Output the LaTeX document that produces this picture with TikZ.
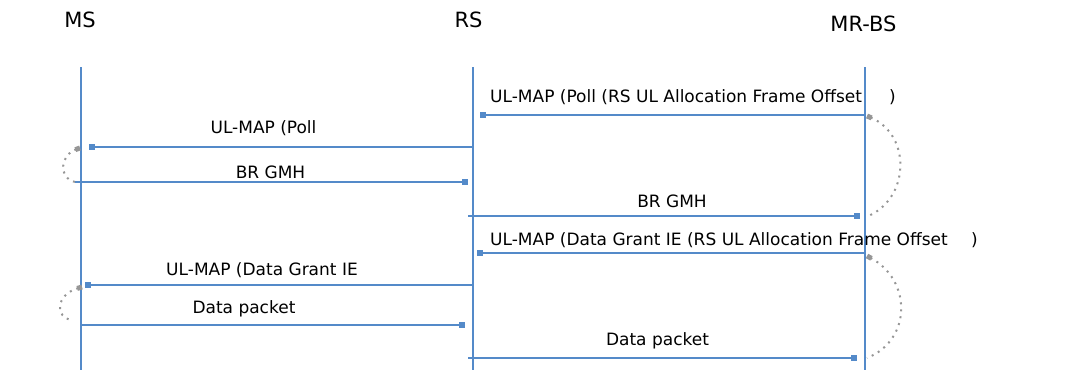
\documentclass[tikz,border=0pt]{standalone}
\usepackage{fontspec}
\setmainfont{DejaVu Sans}
\usetikzlibrary{arrows.meta}
\definecolor{lifeblue}{RGB}{84,138,201}
\definecolor{arcgray}{RGB}{150,150,150}
\tikzset{
  head/.style={font=\fontsize{21}{24}\selectfont, anchor=base, inner sep=0pt},
  msgtext/.style={font=\fontsize{17}{19}\selectfont, anchor=base, inner sep=0pt},
  lifeline/.style={draw=lifeblue, line width=2.8pt},
  msg/.style={draw=lifeblue, line width=2.4pt, -{Square[length=6pt,width=6pt]}},
  timearc/.style={draw=arcgray, line width=2pt, dash pattern=on 2pt off 5pt,
     {Square[length=5pt,width=5pt]}-},
}
\begin{document}
\begin{tikzpicture}[x=1pt,y=-1pt]
\useasboundingbox (0,0) rectangle (1071,370);
% headers
\node[head] (hms) at (80,27) {MS};
\node[head] (hrs) at (468.5,27) {RS};
\node[head] (hbs) at (863.5,31) {MR-BS};
% lifelines
\coordinate (mstop) at (81,67);  \coordinate (msbot) at (81,370);
\coordinate (rstop) at (473,67); \coordinate (rsbot) at (473,370);
\coordinate (bstop) at (865,67); \coordinate (bsbot) at (865,370);
\draw[lifeline] (mstop) -- (msbot);
\draw[lifeline] (rstop) -- (rsbot);
\draw[lifeline] (bstop) -- (bsbot);
% message points
\foreach \n/\y in {1/115,2/147,3/182,4/216,5/253,6/285,7/325,8/358}{
  \coordinate (ms\n) at (81,\y);
  \coordinate (rs\n) at (473,\y);
  \coordinate (bs\n) at (865,\y);
}
% messages
\draw[msg, shorten >=7pt] (bs1) -- (rs1);
\draw[msg, shorten >=8pt] (rs2) -- (ms2);
\draw[msg, shorten <=-6pt, shorten >=5pt] (ms3) -- (rs3);
\draw[msg, shorten <=-5pt, shorten >=5pt] (rs4) -- (bs4);
\draw[msg, shorten >=4pt] (bs5) -- (rs5);
\draw[msg, shorten >=4pt] (rs6) -- (ms6);
\draw[msg, shorten >=8pt] (ms7) -- (rs7);
\draw[msg, shorten <=-5pt, shorten >=8pt] (rs8) -- (bs8);
% labels
\node[msgtext, anchor=base west] (t1) at (490,102) {UL-MAP (Poll (RS UL Allocation Frame Offset};
\node[msgtext, anchor=base west] (t1b) at (889,102) {)};
\node[msgtext] (t2) at (263.5,133) {UL-MAP (Poll};
\node[msgtext] (t3) at (270.5,178) {BR GMH};
\node[msgtext] (t4) at (672,207) {BR GMH};
\node[msgtext, anchor=base west] (t5) at (490,245) {UL-MAP (Data Grant IE (RS UL Allocation Frame Offset};
\node[msgtext, anchor=base west] (t5b) at (971,245) {)};
\node[msgtext] (t6) at (262,275) {UL-MAP (Data Grant IE};
\node[msgtext] (t7) at (244,313) {Data packet};
\node[msgtext] (t8) at (657.5,345) {Data packet};
% timing arcs
\coordinate (a1s) at (80,148); \coordinate (a1e) at (75,182);
\coordinate (a2s) at (867,116); \coordinate (a2e) at (866,217);
\coordinate (a3s) at (82,287); \coordinate (a3e) at (72,320);
\coordinate (a4s) at (867,256); \coordinate (a4e) at (867,358);
\draw[timearc] (a1s) .. controls (60,155) and (58,178) .. (a1e);
\draw[timearc] (a2s) .. controls (912,135) and (910,200) .. (a2e);
\draw[timearc] (a3s) .. controls (55,295) and (55,318) .. (a3e);
\draw[timearc] (a4s) .. controls (912,280) and (912,340) .. (a4e);
\end{tikzpicture}
\end{document}
